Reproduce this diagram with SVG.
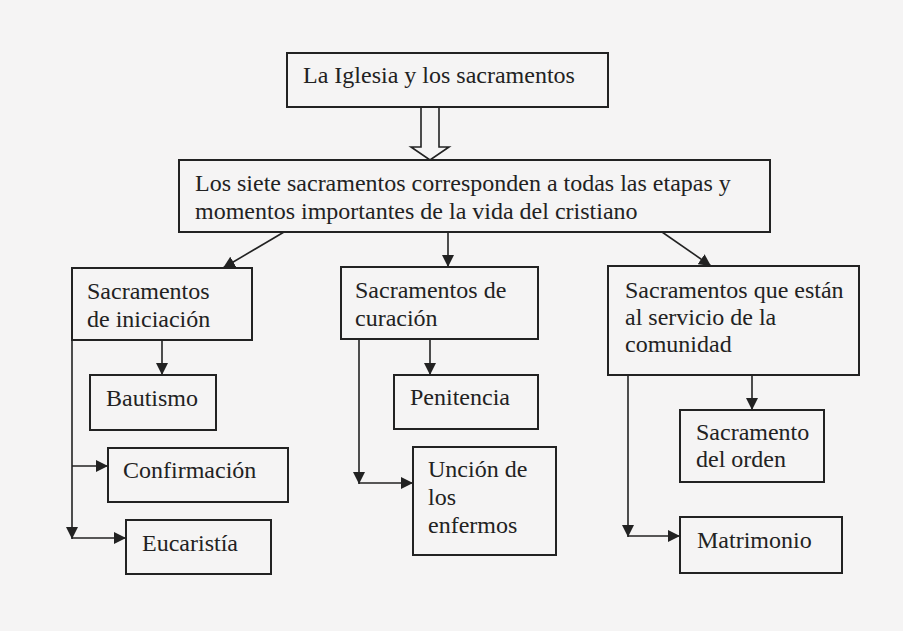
<svg xmlns="http://www.w3.org/2000/svg" width="903" height="631" viewBox="0 0 903 631">
  <style>
    .box { fill: none; stroke: #222; stroke-width: 2; }
    .t { font-family: "Liberation Serif", "Times New Roman", serif; font-size: 24px; fill: #222; }
    .c { fill: none; stroke: #222; stroke-width: 1.6; }
    .ca { fill: none; stroke: #222; stroke-width: 1.6; marker-end: url(#ah); }
  </style>
  <defs>
    <marker id="ah" markerUnits="userSpaceOnUse" markerWidth="12" markerHeight="12" viewBox="0 0 12 12" refX="12" refY="6" orient="auto">
      <path d="M0,0 L12,6 L0,12 z" fill="#222"/>
    </marker>
  </defs>
  <rect x="0" y="0" width="903" height="631" fill="#f5f4f4"/>

  <g id="connectors">
    <path class="c" d="M421,107 V147 H411 L430,160 L449,147 H439 V107" fill="#f5f4f4" style="fill:#f5f4f4"/>
    <line class="ca" x1="284" y1="232" x2="223" y2="268"/>
    <line class="ca" x1="448" y1="232" x2="448" y2="267"/>
    <line class="ca" x1="662" y1="232" x2="711" y2="266"/>
    <line class="ca" x1="162" y1="340" x2="162" y2="375"/>
    <line class="ca" x1="72" y1="340" x2="72" y2="539"/>
    <line class="ca" x1="72" y1="466" x2="108" y2="466"/>
    <line class="ca" x1="72" y1="538" x2="126" y2="538"/>
    <line class="ca" x1="430" y1="339" x2="430" y2="375"/>
    <line class="ca" x1="359" y1="339" x2="359" y2="484"/>
    <line class="ca" x1="359" y1="483" x2="413" y2="483"/>
    <line class="ca" x1="752" y1="375" x2="752" y2="410"/>
    <line class="ca" x1="628" y1="375" x2="628" y2="537"/>
    <line class="ca" x1="628" y1="536" x2="680" y2="536"/>
  </g>

  <g id="n-iglesia">
    <rect class="box" x="287" y="53" width="321" height="54"/>
    <text class="t" x="303" y="83">La Iglesia y los sacramentos</text>
  </g>
  <g id="n-siete">
    <rect class="box" x="179" y="160" width="591" height="72"/>
    <text class="t" x="195" y="191">Los siete sacramentos corresponden a todas las etapas y</text>
    <text class="t" x="195" y="219">momentos importantes de la vida del cristiano</text>
  </g>
  <g id="n-iniciacion">
    <rect class="box" x="72" y="268" width="180" height="72"/>
    <text class="t" x="87" y="299">Sacramentos</text>
    <text class="t" x="87" y="327">de iniciación</text>
  </g>
  <g id="n-curacion">
    <rect class="box" x="341" y="267" width="197" height="72"/>
    <text class="t" x="355" y="298">Sacramentos de</text>
    <text class="t" x="355" y="326">curación</text>
  </g>
  <g id="n-comunidad">
    <rect class="box" x="608" y="266" width="251" height="109"/>
    <text class="t" x="625" y="298">Sacramentos que están</text>
    <text class="t" x="625" y="325">al servicio de la</text>
    <text class="t" x="625" y="352">comunidad</text>
  </g>
  <g id="n-bautismo">
    <rect class="box" x="90" y="375" width="126" height="55"/>
    <text class="t" x="106" y="406">Bautismo</text>
  </g>
  <g id="n-confirmacion">
    <rect class="box" x="108" y="448" width="180" height="54"/>
    <text class="t" x="123" y="478">Confirmación</text>
  </g>
  <g id="n-eucaristia">
    <rect class="box" x="126" y="520" width="145" height="54"/>
    <text class="t" x="142" y="551">Eucaristía</text>
  </g>
  <g id="n-penitencia">
    <rect class="box" x="394" y="375" width="144" height="54"/>
    <text class="t" x="410" y="405">Penitencia</text>
  </g>
  <g id="n-uncion">
    <rect class="box" x="413" y="447" width="143" height="108"/>
    <text class="t" x="428" y="477">Unción de</text>
    <text class="t" x="428" y="505">los</text>
    <text class="t" x="428" y="533">enfermos</text>
  </g>
  <g id="n-orden">
    <rect class="box" x="680" y="410" width="144" height="72"/>
    <text class="t" x="696" y="440">Sacramento</text>
    <text class="t" x="696" y="467">del orden</text>
  </g>
  <g id="n-matrimonio">
    <rect class="box" x="680" y="517" width="162" height="56"/>
    <text class="t" x="697" y="548">Matrimonio</text>
  </g>
</svg>
